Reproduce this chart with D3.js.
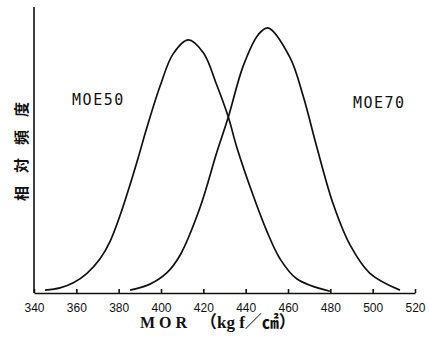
<!DOCTYPE html>
<html>
<head>
<meta charset="utf-8">
<script src="https://cdn.jsdelivr.net/npm/d3@7"></script>
<style>
	body { margin: 0; background: #fff; }
	svg { display: block; }
	.axis path, .axis line { stroke: #111; stroke-width: 1.6; }
	.axis text { font-family: "Liberation Sans", Arial, sans-serif; font-size: 12px; fill: #111; }
	.curve-label { font-family: "DejaVu Sans Mono", monospace; font-size: 15px; letter-spacing: 1.5px; fill: #111; }
	.axis-title { fill: #111; }
</style>
</head>
<body>
<div id="holder" style="width:429px;height:337px;">
	<svg id="chart"></svg>
</div>
<script>
// MOR values (kgf/cm2) and relative frequency
const moe50Mor = [345.2, 352.3, 358.6, 364.9, 371.2, 375.9, 380.6, 384.5, 389.3, 393.2, 399.5, 405.8, 412.9, 420.0, 426.3, 431.8, 435.8, 443.6, 449.9, 456.2, 464.1, 479.8];
const moe50Freq = [1.0, 1.8, 3.6, 6.8, 12.0, 18.0, 27.0, 35.8, 47.5, 57.5, 72.2, 83.7, 88.5, 84.0, 72.8, 61.5, 51.0, 34.0, 21.8, 12.0, 5.0, 0.6];

const moe70Mor = [385.4, 394.8, 402.7, 409.0, 418.4, 426.3, 431.8, 438.9, 446.0, 450.5, 460.9, 467.2, 473.5, 481.4, 489.3, 498.7, 512.9];
const moe70Freq = [1.0, 3.1, 7.0, 13.2, 29.8, 49.0, 61.5, 79.5, 90.4, 92.7, 82.4, 68.8, 51.3, 31.0, 16.8, 6.9, 1.0];

const xTicks = [340, 360, 380, 400, 420, 440, 460, 480, 500, 520];

const margin = { top: 7, right: 14, bottom: 44, left: 34 };

function makeCurvePlot(holder, svgElement) {
	const viewWidth = holder.clientWidth;
	const viewHeight = holder.clientHeight;
	const width = viewWidth - margin.left - margin.right;
	const height = viewHeight - margin.top - margin.bottom;

	const svg = d3.select(svgElement)
		.attr("width", viewWidth)
		.attr("height", viewHeight)
		.append("g")
		.attr("transform", "translate(" + margin.left + "," + margin.top + ")");

	const x = d3.scaleLinear()
		.domain([340, 520])
		.range([0, width]);
	const y = d3.scaleLinear()
		.domain([0, 100])
		.range([height, 0]);

	svg.append("g")
		.attr("class", "axis")
		.attr("transform", "translate(0," + height + ")")
		.call(d3.axisBottom(x).tickValues(xTicks).tickSizeInner(-4).tickSizeOuter(0).tickPadding(10))
		.call(g => g.selectAll(".tick text").attr("dy", "0.71em"));

	svg.append("line")
		.attr("x1", x(340)).attr("x2", x(340))
		.attr("y1", y(0)).attr("y2", y(100))
		.attr("stroke", "#111")
		.attr("stroke-width", 1.6);

	const line = d3.line()
		.x(d => x(d[0]))
		.y(d => y(d[1]))
		.curve(d3.curveCatmullRom.alpha(0.5));

	[[moe50Mor, moe50Freq], [moe70Mor, moe70Freq]].forEach(function (s) {
		svg.append("path")
			.datum(d3.zip(s[0], s[1]))
			.attr("fill", "none")
			.attr("stroke", "#111")
			.attr("stroke-width", 1.7)
			.attr("d", line);
	});

	svg.append("text")
		.attr("class", "curve-label")
		.attr("x", x(358))
		.attr("y", y(65.7))
		.text("MOE50");

	svg.append("text")
		.attr("class", "curve-label")
		.attr("x", x(490.7))
		.attr("y", y(64.7))
		.text("MOE70");

	// y title, rotated (reads bottom to top)
	svg.append("text")
		.attr("class", "axis-title")
		.attr("transform", "translate(" + (22 - margin.left) + "," + (145 - margin.top) + ") rotate(-90)")
		.attr("text-anchor", "middle")
		.attr("dy", "0.35em")
		.style("font-family", "'Noto Sans CJK JP', sans-serif")
		.style("font-size", "15px")
		.style("font-weight", "bold")
		.style("letter-spacing", "13px")
		.text("相対頻度");

	const title = svg.append("text")
		.attr("class", "axis-title")
		.attr("y", height + 35)
		.style("font-family", "'Liberation Serif', 'Noto Sans CJK JP', serif")
		.style("font-size", "16px")
		.style("font-weight", "bold");
	title.append("tspan")
		.attr("x", 140 - margin.left)
		.text("M O R");
	title.append("tspan")
		.attr("x", 200 - margin.left)
		.style("font-size", "17px")
		.text("（kg f／㎠）");
}

makeCurvePlot(document.getElementById("holder"), document.getElementById("chart"));
</script>
</body>
</html>
